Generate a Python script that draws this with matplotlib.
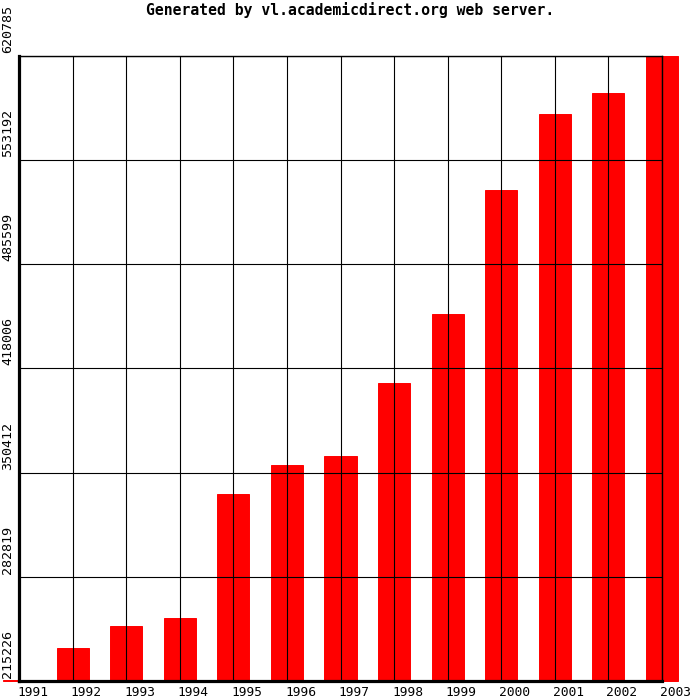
import matplotlib
matplotlib.use("Agg")
import matplotlib.pyplot as plt
import matplotlib.transforms as mtransforms

years = [1991, 1992, 1993, 1994, 1995, 1996, 1997, 1998, 1999, 2000, 2001, 2002, 2003]
values = [215900, 236639, 250915, 256106, 336569, 355387, 361227, 408595,
          453369, 533833, 583149, 596776, 620785]
y_ticks = [215226, 282819, 350412, 418006, 485599, 553192, 620785]
x_labels = [str(y) for y in years]
title = "Generated by vl.academicdirect.org web server."

W = H = 700
fig = plt.figure(figsize=(7, 7), dpi=100)
left, right, top, bottom = 19, 662, 56, 681
ax = fig.add_axes([left / W, (H - bottom) / H, (right - left) / W, (bottom - top) / H])

ymin, ymax = y_ticks[0], y_ticks[-1]
ax.bar(years, [v - ymin for v in values], bottom=ymin, width=0.6,
       color="#ff0000", edgecolor="#ff0000", linewidth=0.7, clip_on=False, zorder=1)

ax.set_xlim(years[0], years[-1])
ax.set_ylim(ymin, ymax)
ax.set_xticks(years)
ax.set_yticks(y_ticks)
ax.tick_params(length=0, labelbottom=False, labelleft=False)
ax.set_axisbelow(False)
ax.grid(True, color="black", linewidth=0.8)
for s in ["top", "right"]:
    ax.spines[s].set_linewidth(1.0)
    ax.spines[s].set_zorder(3)
for s in ["left", "bottom"]:
    ax.spines[s].set_linewidth(2.3)
    ax.spines[s].set_zorder(3)

# y tick labels rotated, at the left edge
ytrans = mtransforms.offset_copy(
    mtransforms.blended_transform_factory(fig.transFigure, ax.transData),
    fig=fig, x=0, y=3, units="dots")
for v in y_ticks:
    fig.text(7.5 / W, v, str(v), rotation=90, ha="center", va="bottom",
             family="DejaVu Sans Mono", fontsize=9.6, transform=ytrans)

# x tick labels
xtrans = mtransforms.offset_copy(
    mtransforms.blended_transform_factory(ax.transData, fig.transFigure),
    fig=fig, x=-2, y=0, units="dots")
for yr, lab in zip(years, x_labels):
    fig.text(yr, 8 / H, lab, ha="left", va="center",
             family="DejaVu Sans Mono", fontsize=9.3, transform=xtrans)

fig.text(0.5, 1 - 9.5 / H, title, ha="center", va="center",
         family="DejaVu Sans Mono", fontweight="bold", fontsize=10.6)

fig.savefig("out.png", dpi=100, facecolor="white")
